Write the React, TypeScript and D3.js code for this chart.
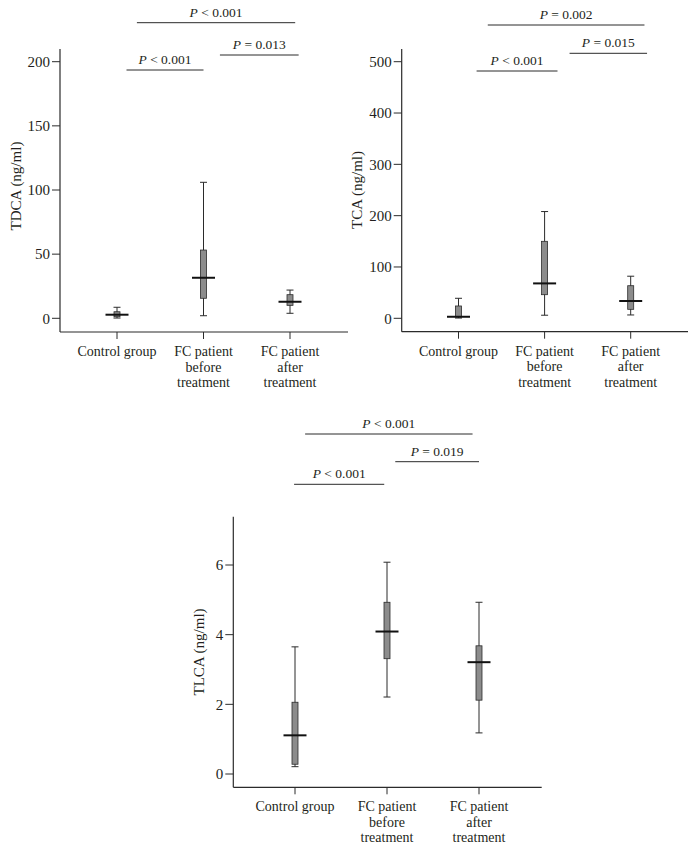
import React from "react";
import * as d3 from "d3";

// ---------- data ----------
const categories = [
  ["Control group"],
  ["FC patient", "before", "treatment"],
  ["FC patient", "after", "treatment"],
];

// [whiskerLow, q1, median, q3, whiskerHigh]
const tdcaStats = [
  [0.2, 1.2, 2.8, 5.1, 8.6],
  [2, 15.6, 31.6, 53.2, 106],
  [3.9, 10.1, 12.9, 18.4, 22],
];
const tcaStats = [
  [0.5, 2.5, 3, 24, 39],
  [6, 46, 68, 150, 208],
  [6.5, 17.5, 33.7, 63.5, 82],
];
const tlcaStats = [
  [0.21, 0.28, 1.11, 2.06, 3.65],
  [2.21, 3.31, 4.09, 4.93, 6.08],
  [1.18, 2.12, 3.21, 3.68, 4.93],
];

const tdcaTicks = [0, 50, 100, 150, 200];
const tcaTicks = [0, 100, 200, 300, 400, 500];
const tlcaTicks = [0, 2, 4, 6];

// brackets: [fromCategoryPos, toCategoryPos, operator, value]
const tdcaBrackets = [
  [0.23, 2.06, "<", "0.001"],
  [1.19, 2.1, "=", "0.013"],
  [0.11, 1.0, "<", "0.001"],
];
const tcaBrackets = [
  [0.34, 2.16, "=", "0.002"],
  [1.29, 2.19, "=", "0.015"],
  [0.21, 1.15, "<", "0.001"],
];
const tlcaBrackets = [
  [0.11, 1.93, "<", "0.001"],
  [1.09, 2.0, "=", "0.019"],
  [-0.01, 0.97, "<", "0.001"],
];

// ---------- layout ----------
const FONT = "'Liberation Serif', 'Times New Roman', serif";
const TEXT = "#231f20";
const LINE = "#2b2b2b";
const BOX_FILL = "#8c8c8c";

type Panel = {
  title: string;
  stats: number[][];
  ticks: number[];
  brackets: (number | string)[][];
  yAxisX: number;
  xAxisY: number;
  axisTop: number;
  axisEnd: number;
  yDomainMax: number;
  yPx0: number;
  yPxMax: number;
  catX: [number, number];
  yLabelX: number;
  yLabelY: number;
  bracketLineY: number[];
};

const panels: Panel[] = [
  {
    title: "TDCA (ng/ml)",
    stats: tdcaStats,
    ticks: tdcaTicks,
    brackets: tdcaBrackets,
    yAxisX: 60,
    xAxisY: 332,
    axisTop: 49,
    axisEnd: 348,
    yDomainMax: 200,
    yPx0: 318.3,
    yPxMax: 61.7,
    catX: [117, 290],
    yLabelX: 16,
    yLabelY: 186,
    bracketLineY: [22.7, 55, 70],
  },
  {
    title: "TCA (ng/ml)",
    stats: tcaStats,
    ticks: tcaTicks,
    brackets: tcaBrackets,
    yAxisX: 401.7,
    xAxisY: 331.7,
    axisTop: 49,
    axisEnd: 688,
    yDomainMax: 500,
    yPx0: 318.3,
    yPxMax: 61.7,
    catX: [458.5, 630.7],
    yLabelX: 357,
    yLabelY: 190,
    bracketLineY: [25, 53.3, 71],
  },
  {
    title: "TLCA (ng/ml)",
    stats: tlcaStats,
    ticks: tlcaTicks,
    brackets: tlcaBrackets,
    yAxisX: 233.3,
    xAxisY: 787.3,
    axisTop: 516.7,
    axisEnd: 541.7,
    yDomainMax: 6,
    yPx0: 774,
    yPxMax: 565,
    catX: [295, 479],
    yLabelX: 199,
    yLabelY: 652,
    bracketLineY: [434, 461.7, 484.3],
  },
];

function BoxPanel({ p }: { p: Panel }) {
  const y = d3.scaleLinear().domain([0, p.yDomainMax]).range([p.yPx0, p.yPxMax]);
  const x = d3.scaleLinear().domain([0, 2]).range(p.catX);
  const boxW = 6;
  const capW = 7;
  const medW = 23;
  return (
    <g>
      {/* axes */}
      <line x1={p.yAxisX} x2={p.yAxisX} y1={p.axisTop} y2={p.xAxisY} stroke={LINE} strokeWidth={1.2} />
      <line x1={p.yAxisX} x2={p.axisEnd} y1={p.xAxisY} y2={p.xAxisY} stroke={LINE} strokeWidth={1.2} />
      {p.ticks.map((t) => (
        <g key={t}>
          <line x1={p.yAxisX - 8} x2={p.yAxisX} y1={y(t)} y2={y(t)} stroke={LINE} strokeWidth={1} />
          <text
            x={p.yAxisX - 10}
            y={y(t)}
            dy="0.35em"
            textAnchor="end"
            fontFamily={FONT}
            fontSize={15}
            fill={TEXT}
          >
            {t}
          </text>
        </g>
      ))}
      <text
        transform={`translate(${p.yLabelX},${p.yLabelY}) rotate(-90)`}
        textAnchor="middle"
        dy="0.35em"
        fontFamily={FONT}
        fontSize={15}
        fill={TEXT}
      >
        {p.title}
      </text>
      {categories.map((lines, i) => (
        <g key={i}>
          <line x1={x(i)} x2={x(i)} y1={p.xAxisY} y2={p.xAxisY + 7} stroke={LINE} strokeWidth={1} />
          {lines.map((ln, j) => (
            <text
              key={j}
              x={x(i)}
              y={p.xAxisY + 24 + j * 15.5}
              textAnchor="middle"
              fontFamily={FONT}
              fontSize={14}
              fill={TEXT}
            >
              {ln}
            </text>
          ))}
        </g>
      ))}
      {/* boxes */}
      {p.stats.map((s, i) => {
        const cx = x(i);
        const [lo, q1, med, q3, hi] = s;
        return (
          <g key={i}>
            <line x1={cx} x2={cx} y1={y(lo)} y2={y(hi)} stroke={LINE} strokeWidth={1} />
            <line x1={cx - capW / 2} x2={cx + capW / 2} y1={y(lo)} y2={y(lo)} stroke={LINE} strokeWidth={1} />
            <line x1={cx - capW / 2} x2={cx + capW / 2} y1={y(hi)} y2={y(hi)} stroke={LINE} strokeWidth={1} />
            <rect
              x={cx - boxW / 2}
              y={y(q3)}
              width={boxW}
              height={Math.max(0.5, y(q1) - y(q3))}
              fill={BOX_FILL}
              stroke={LINE}
              strokeWidth={0.8}
            />
            <line x1={cx - medW / 2} x2={cx + medW / 2} y1={y(med)} y2={y(med)} stroke="#111" strokeWidth={2} />
          </g>
        );
      })}
      {/* brackets */}
      {p.brackets.map((b, k) => {
        const [from, to, op, val] = b as [number, number, string, string];
        const ly = p.bracketLineY[k];
        const mid = (x(from) + x(to)) / 2;
        return (
          <g key={k}>
            <line x1={x(from)} x2={x(to)} y1={ly} y2={ly} stroke={LINE} strokeWidth={1} />
            <text
              x={mid}
              y={ly - 6}
              textAnchor="middle"
              fontFamily={FONT}
              fontSize={13.5}
              fill={TEXT}
            >
              <tspan fontStyle="italic">P</tspan>
              {` ${op} ${val}`}
            </text>
          </g>
        );
      })}
    </g>
  );
}

export default function App() {
  return (
    <svg
      width={697}
      height={850}
      viewBox="0 0 697 850"
      style={{ position: "absolute", left: 0, top: 0, background: "#fff" }}
    >
      <rect width={697} height={850} fill="#fff" />
      {panels.map((p, i) => (
        <BoxPanel key={i} p={p} />
      ))}
    </svg>
  );
}
